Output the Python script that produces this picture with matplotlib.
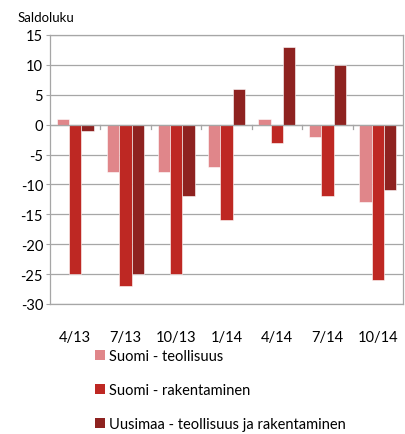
import matplotlib
matplotlib.use("Agg")
import matplotlib.pyplot as plt
import numpy as np
from matplotlib.patches import Patch

categories = ["4/13", "7/13", "10/13", "1/14", "4/14", "7/14", "10/14"]
series_names = ["Suomi - teollisuus", "Suomi - rakentaminen",
                "Uusimaa - teollisuus ja rakentaminen"]
suomi_teollisuus = [1, -8, -8, -7, 1, -2, -13]
suomi_rakentaminen = [-25, -27, -25, -16, -3, -12, -26]
uusimaa = [-1, -25, -12, 6, 13, 10, -11]
colors = ["#E0868A", "#BE2823", "#8E2220"]
yticks = [15, 10, 5, 0, -5, -10, -15, -20, -25, -30]

plt.rcParams['font.family'] = ['Lato', 'DejaVu Sans']
fig = plt.figure(figsize=(4.05, 4.35), dpi=100)
ax = fig.add_axes([50/405, 1-305/435, 353/405, 269/435])

x = np.arange(len(categories))
w = 0.245
for i, (vals, c) in enumerate(zip([suomi_teollisuus, suomi_rakentaminen, uusimaa], colors)):
    ax.bar(x + (i-1)*w, vals, w, color=c, edgecolor='white', linewidth=0.4, zorder=3)

ax.set_xlim(-0.5, len(categories)-0.5)
ax.set_ylim(-30, 15)
ax.set_yticks(yticks)
ax.set_yticklabels([str(v) for v in yticks], fontsize=10.5)
ax.yaxis.grid(True, color='#A6A6A6', linewidth=0.9, zorder=0)
ax.tick_params(axis='y', length=3, color='#A6A6A6', pad=2)
for s in ax.spines.values():
    s.set_color('#A6A6A6')
    s.set_linewidth(0.9)

# zero axis line with boundary ticks
ax.axhline(0, color='#A6A6A6', linewidth=0.9, zorder=4)
for b in np.arange(0.5, len(categories)-1, 1):
    ax.plot([b, b], [0, -0.7], color='#A6A6A6', linewidth=0.9, zorder=4, clip_on=False)
ax.set_xticks(x)
ax.set_xticklabels(categories, fontsize=10.5)
ax.tick_params(axis='x', length=0, pad=19)

fig.text(18/405, 1-18/435, "Saldoluku", fontsize=9.5, va='center', ha='left')

handles = [Patch(facecolor=c, edgecolor='none') for c in colors]
fig.legend(handles, series_names, loc='upper left', bbox_to_anchor=(95/405, 1-350/435),
           frameon=False, fontsize=10.5, labelspacing=1.38, handlelength=0.7,
           handleheight=0.7, handletextpad=0.25, borderaxespad=0, borderpad=0)

fig.savefig("out.png", dpi=100)
